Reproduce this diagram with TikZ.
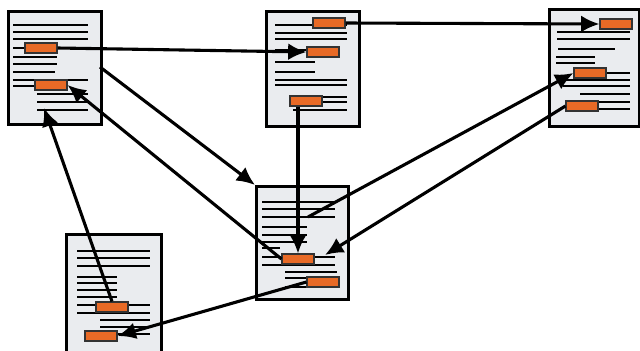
\documentclass[tikz,border=0pt]{standalone}
\usetikzlibrary{arrows.meta}
\newcommand{\pxl}{0.025cm}
\definecolor{pagegray}{RGB}{234,236,239}
\definecolor{hiorange}{RGB}{232,106,38}
\tikzset{
  page/.style={draw, line width=2.2pt, fill=pagegray, inner sep=0pt, anchor=north west},
  hilite/.style={draw=black!80, line width=0.8pt, fill=hiorange, inner sep=0pt,
    minimum width=32*\pxl, minimum height=10*\pxl},
  txt/.style={line width=1.1pt},
  arr/.style={line width=2.2pt, -{Latex[length=13pt,width=12pt]}}
}
\begin{document}
\begin{tikzpicture}[x=0.025cm, y=-0.025cm]
  \useasboundingbox[fill=white] (0,0) rectangle (640,350);

  % pages
  \node[page, minimum width=93*\pxl, minimum height=113*\pxl] (A) at (7,10) {};
  \node[page, minimum width=93*\pxl, minimum height=115*\pxl] (B) at (265,10) {};
  \node[page, minimum width=90*\pxl, minimum height=117*\pxl] (C) at (548,8) {};
  \node[page, minimum width=92*\pxl, minimum height=113*\pxl] (D) at (255,185) {};
  \node[page, minimum width=95*\pxl, minimum height=125*\pxl] (E) at (65,233) {};

  % text lines
  \foreach \y/\a/\b in {25/13/88, 32/13/88, 39/13/88, 48/13/57, 57/13/57, 64/13/57,
      72/13/55, 80/13/88, 86/13/67, 94/37/88, 102/37/88, 110/37/88}
    \draw[txt] (\a,\y) -- (\b,\y);
  \foreach \y/\a/\b in {25/275/347, 33/275/347, 39/275/347, 50/275/307, 62/275/315,
      72/275/315, 80/275/347, 85/275/347, 97/322/347, 102/322/347, 110/293/347}
    \draw[txt] (\a,\y) -- (\b,\y);
  \foreach \y/\a/\b in {32/557/630, 39/557/630, 49/558/615, 57/556/595, 63/556/595,
      73/575/630, 80/563/630, 86/563/630, 94/580/630, 102/598/630, 109/567/630}
    \draw[txt] (\a,\y) -- (\b,\y);
  \foreach \y/\a/\b in {202/262/335, 209/262/335, 217/262/335, 227/262/307, 235/262/307,
      242/262/307, 248/262/280, 257/262/335, 265/262/335, 272/285/337, 278/285/337,
      287/285/310}
    \draw[txt] (\a,\y) -- (\b,\y);
  \foreach \y/\a/\b in {251/77/150, 258/77/150, 266/77/150, 277/77/117, 283/77/117,
      290/77/117, 297/77/117, 305/77/150, 313/77/150, 320/100/150, 327/100/150,
      334/117/150}
    \draw[txt] (\a,\y) -- (\b,\y);

  % highlights
  \node[hilite] (a1) at (41,48) {};
  \node[hilite] (a2) at (51,85) {};
  \node[hilite] (b1) at (329,23) {};
  \node[hilite] (b2) at (323,52) {};
  \node[hilite] (b3) at (306,101) {};
  \node[hilite] (c1) at (616,24) {};
  \node[hilite] (c2) at (590,73) {};
  \node[hilite] (c3) at (582,106) {};
  \node[hilite] (d1) at (298,259) {};
  \node[hilite] (d2) at (323,282) {};
  \node[hilite] (e1) at (112,307) {};
  \node[hilite] (e2) at (101,336) {};

  \coordinate (a4s) at (100,67);
  \coordinate (a9e) at (44,108);
  \coordinate (d6s) at (308,217);
  \coordinate (d7e) at (325,255);

  % links
  \draw[arr] (a1.east) -- (b2.west);
  \draw[arr] (b1.east) -- (c1.west);
  \draw[arr] (b3.south -| d1.north) -- (d1.north);
  \draw[arr] (a4s) -- (D.north west);
  \draw[arr] (d1.west) -- (a2.east);
  \draw[arr] (d6s) -- (c2.west);
  \draw[arr] (c3.west) -- (d7e);
  \draw[arr] (d2.west) -- (e2.east);
  \draw[arr] (e1.north) -- (a9e);

\end{tikzpicture}
\end{document}
